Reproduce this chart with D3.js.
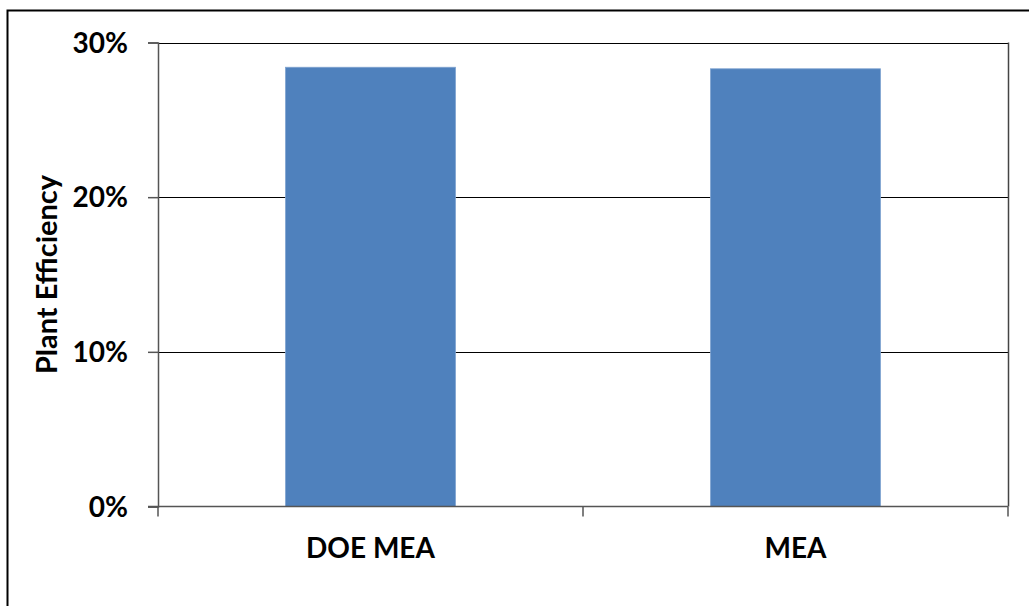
<!DOCTYPE html>
<html>
<head>
<meta charset="utf-8">
<script src="https://cdn.jsdelivr.net/npm/d3@7/dist/d3.min.js"></script>
<style>
  html, body { margin: 0; padding: 0; background: #fff; }
  svg { display: block; }
  text { font-family: Lato, "Liberation Sans", sans-serif; font-weight: bold; fill: #000; }
</style>
</head>
<body>
<svg id="chart" width="1029" height="606"></svg>
<script>
const categories = ["DOE MEA", "MEA"];
const efficiency = [0.284, 0.283];
const yTicks = [0, 0.1, 0.2, 0.3];
const yTitle = "Plant Efficiency";

const W = 1029, H = 606;
const m = { left: 158, right: 1008, top: 42.5, bottom: 506.5 };
const svg = d3.select("#chart");

// outer frame (only top and left visible)
svg.append("rect").attr("x", 7.5).attr("y", 10.5).attr("width", W + 10).attr("height", H + 10)
  .attr("fill", "none").attr("stroke", "#000").attr("stroke-width", 2);

const x = d3.scaleBand().domain(categories).range([m.left, m.right]).paddingInner(0.6).paddingOuter(0.3);
const y = d3.scaleLinear().domain([0, 0.3]).range([m.bottom, m.top]);

// gridlines
svg.append("g").selectAll("line").data(yTicks.filter(d => d > 0)).join("line")
  .attr("x1", m.left).attr("x2", m.right)
  .attr("y1", d => Math.round(y(d)) + 0.5).attr("y2", d => Math.round(y(d)) + 0.5)
  .attr("stroke", "#000").attr("stroke-width", 1);

// plot area right border
svg.append("line").attr("x1", m.right + 0.5).attr("x2", m.right + 0.5)
  .attr("y1", m.top).attr("y2", m.bottom).attr("stroke", "#444").attr("stroke-width", 1.5);

// bars
svg.append("g").selectAll("rect").data(categories).join("rect")
  .attr("x", d => x(d)).attr("width", x.bandwidth())
  .attr("y", (d, i) => y(efficiency[i]))
  .attr("height", (d, i) => y(0) - y(efficiency[i]))
  .attr("fill", "#4F81BD").attr("stroke", "#7FA3D0").attr("stroke-width", 0.8);

// y axis
const yAxis = d3.axisLeft(y).tickValues(yTicks).tickFormat(d3.format(".0%")).tickSize(10).tickPadding(20);
const gy = svg.append("g").attr("transform", `translate(${m.left},0)`).call(yAxis);
gy.select(".domain").attr("stroke", "#555").attr("stroke-width", 1.5);
gy.selectAll(".tick line").attr("stroke", "#555").attr("stroke-width", 1.5);
gy.selectAll(".tick text").style("font-size", "28px").attr("dy", "0.35em");

// x axis
const xEdges = d3.scaleLinear().domain([0, categories.length]).range([m.left, m.right]);
const gx = svg.append("g").attr("transform", `translate(0,${m.bottom})`);
gx.append("line").attr("x1", m.left - 10).attr("x2", m.right).attr("y1", 0).attr("y2", 0)
  .attr("stroke", "#555").attr("stroke-width", 1.5);
gx.selectAll("line.tk").data(d3.range(categories.length + 1)).join("line").attr("class", "tk")
  .attr("x1", d => xEdges(d)).attr("x2", d => xEdges(d)).attr("y1", 0).attr("y2", 10)
  .attr("stroke", "#555").attr("stroke-width", 1.5);
gx.selectAll("text").data(categories).join("text")
  .attr("x", d => x(d) + x.bandwidth() / 2).attr("y", 51)
  .attr("text-anchor", "middle").style("font-size", "28px").text(d => d);

// y title
svg.append("text").attr("transform", `translate(57,${(m.top + m.bottom) / 2}) rotate(-90)`)
  .attr("text-anchor", "middle").style("font-size", "29px").text(yTitle);
</script>
</body>
</html>
